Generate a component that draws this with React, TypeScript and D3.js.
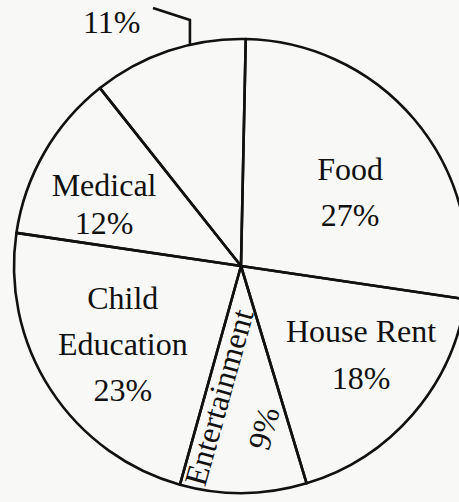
import React from "react";
import * as d3 from "d3";

// ---- data ----
const categories = ["Food", "House Rent", "Entertainment", "Child Education", "Medical", "Other"];
const percents = [27, 18, 9, 23, 12, 11];
const labelLines = [["Food", "27%"], ["House Rent", "18%"], ["9%"], ["Child", "Education", "23%"], ["Medical", "12%"], ["11%"]];

// ---- layout ----
const W = 459;
const H = 502;
const CX = 241;
const CY = 266;
const R = 227;
const START_DEG = 1.2;
const FONT = "'Liberation Serif', 'Times New Roman', serif";
const FS = 32;
// nudges from centroid (0.6R) for the in-slice labels
const nudges = [[5, 14], [17, 0], [21, 26], [-4, 3.5], [-19, 6], [0, 0]];
const lineHeights = [46, 47, 46, 46, 38, 46];

export default function App() {
  const toRad = (d: number) => (d * Math.PI) / 180;
  const pie = d3
    .pie<number>()
    .sort(null)
    .value((d) => d)
    .startAngle(toRad(START_DEG))
    .endAngle(toRad(START_DEG) + 2 * Math.PI);
  const arcs = pie(percents);
  const arc = d3.arc<d3.PieArcDatum<number>>().innerRadius(0).outerRadius(R);
  const labelArc = d3.arc<d3.PieArcDatum<number>>().innerRadius(R * 0.6).outerRadius(R * 0.6);

  const polar = (a: number, r: number) => [Math.sin(a) * r, -Math.cos(a) * r];

  // Entertainment rotated text along the boundary with Child Education
  const entArc = arcs[2];
  const bAngle = entArc.endAngle;
  const [bx, by] = polar(bAngle, R - 4);
  const dirIn = [-Math.sin(bAngle), Math.cos(bAngle)]; // inward direction
  const rotDeg = (Math.atan2(dirIn[1], dirIn[0]) * 180) / Math.PI;
  // perpendicular pointing into the entertainment slice
  const perpIn = [-Math.cos(bAngle), -Math.sin(bAngle)];
  const entX = bx + perpIn[0] * 25;
  const entY = by + perpIn[1] * 25;

  // 11% leader line
  const other = arcs[5];
  const leaderA = toRad(347);
  const [lx0, ly0] = polar(leaderA, R);
  const leaderTopY = -246;
  const leaderEndX = -88;

  return (
    <svg width={W} height={H} style={{ position: "absolute", left: 0, top: 0 }} fontFamily={FONT}>
      <rect width={W} height={H} fill="#f8f8f6" />
      <g transform={`translate(${CX},${CY})`}>
        {arcs.map((a, i) => (
          <path key={categories[i]} d={arc(a) || ""} fill="none" stroke="#111" strokeWidth={2.6} strokeLinejoin="round" />
        ))}
        {arcs.map((a, i) => {
          if (i === 5) return null;
          const [cx0, cy0] = labelArc.centroid(a);
          const cx = cx0 + nudges[i][0];
          const cy = cy0 + nudges[i][1];
          const lines = labelLines[i];
          const lh = lineHeights[i];
          if (i === 2) {
            return (
              <text
                key="ent-pct"
                transform={`translate(${cx},${cy}) rotate(${rotDeg})`}
                textAnchor="middle"
                dy="0.35em"
                fontSize={FS}
                fill="#111"
              >
                {lines[0]}
              </text>
            );
          }
          return (
            <text key={categories[i]} textAnchor="middle" fontSize={FS} fill="#111">
              {lines.map((t, j) => (
                <tspan key={j} x={cx} y={cy - ((lines.length - 1) * lh) / 2 + j * lh + FS * 0.34}>
                  {t}
                </tspan>
              ))}
            </text>
          );
        })}
        <text
          transform={`translate(${entX},${entY}) rotate(${rotDeg})`}
          fontSize={FS}
          fill="#111"
        >
          {categories[2]}
        </text>
        <polyline
          points={`${lx0},${ly0} ${lx0},${leaderTopY} ${leaderEndX},${leaderTopY - 12}`}
          fill="none"
          stroke="#111"
          strokeWidth={2.6}
        />
        <text
          x={polar((other.startAngle + other.endAngle) / 2, R)[0] - 57}
          y={-233}
          textAnchor="middle"
          fontSize={FS}
          fill="#111"
        >
          {labelLines[5][0]}
        </text>
      </g>
    </svg>
  );
}
